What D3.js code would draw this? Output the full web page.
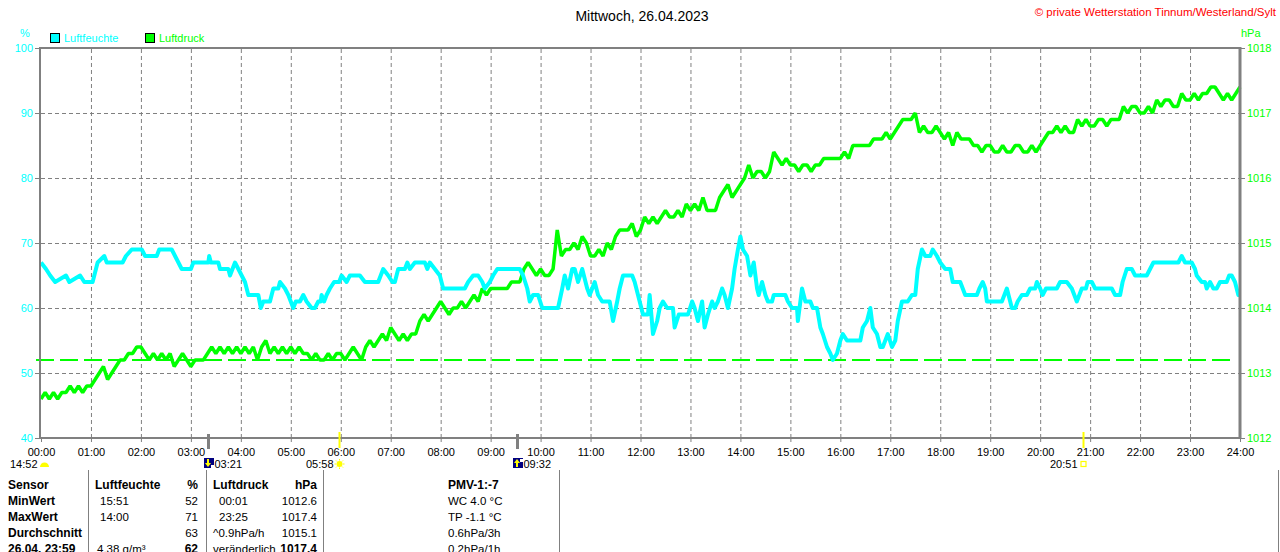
<!DOCTYPE html>
<html>
<head>
<meta charset="utf-8">
<script src="https://cdn.jsdelivr.net/npm/d3@7"></script>
<style>
  body { margin: 0; background: #fff; }
  svg { display: block; font-family: "Liberation Sans", Arial, sans-serif; }
</style>
</head>
<body>
<svg></svg>
<script>
// chart data
var titleText = "Mittwoch, 26.04.2023";
var sourceText = "\u00a9 private Wetterstation Tinnum/Westerland/Sylt";
var hourLabels = ["00:00","01:00","02:00","03:00","04:00","05:00","06:00","07:00","08:00","09:00","10:00","11:00","12:00",
                  "13:00","14:00","15:00","16:00","17:00","18:00","19:00","20:00","21:00","22:00","23:00","24:00"];
var humTicks = [40, 50, 60, 70, 80, 90, 100];
var presTicks = [1012, 1013, 1014, 1015, 1016, 1017, 1018];

// Luftfeuchte (%) -- minute of day / value
var humMin = [0,6,11,17,30,34,47,52,62,66,68,76,79,98,102,109,121,125,139,142,157,161,165,169,180,183,201,202,204,213,215,225,227,233,237,241,245,249,261,264,267,275,279,285,287,293,297,300,303,306,311,315,319,325,329,333,336,337,340,343,347,352,358,361,367,371,383,389,405,411,417,422,425,429,437,440,443,449,461,464,467,473,479,483,509,513,519,525,530,533,539,543,548,575,579,584,587,591,597,602,621,626,629,633,638,641,645,650,656,659,665,669,674,683,687,692,695,699,710,713,717,723,729,731,735,740,743,747,752,759,761,766,771,777,782,785,789,794,797,801,806,809,813,818,821,825,830,833,837,840,843,848,852,856,860,862,866,870,873,878,880,894,897,902,908,909,914,918,924,927,932,936,939,944,948,951,956,960,963,968,984,987,992,996,999,1004,1008,1011,1017,1022,1026,1029,1034,1041,1046,1050,1053,1058,1062,1068,1071,1076,1080,1086,1092,1095,1104,1107,1110,1124,1127,1131,1134,1136,1154,1157,1160,1164,1166,1170,1173,1178,1184,1188,1194,1196,1200,1203,1207,1220,1224,1232,1238,1244,1250,1255,1257,1262,1266,1286,1290,1296,1299,1304,1310,1314,1328,1332,1336,1366,1370,1374,1382,1386,1388,1394,1398,1400,1404,1408,1412,1416,1424,1427,1430,1434,1438,1440];
var humVal = [67,66,65,64,65,64,65,64,64,66,67,68,67,67,68,69,69,68,68,69,69,68,67,66,66,67,67,68,67,67,66,66,65,67,66,65,64,62,62,60,61,61,63,63,64,63,62,61,60,61,61,62,61,60,60,61,61,62,61,62,63,64,64,65,64,65,65,64,64,66,65,64,64,66,66,67,66,67,67,66,67,66,65,63,63,64,65,65,64,63,64,65,66,66,65,63,61,62,62,60,60,63,65,63,66,66,64,66,63,62,64,62,61,61,58,61,63,65,65,64,62,59,59,62,56,58,60,61,60,60,57,59,59,59,61,60,58,61,57,59,61,60,61,63,62,60,63,66,69,71,69,68,65,67,63,62,64,62,61,61,62,62,61,60,60,58,63,61,61,60,60,57,56,54,53,52,53,55,56,55,55,57,58,60,57,56,54,54,56,54,55,58,61,61,62,62,66,69,68,68,69,68,67,66,66,64,64,63,62,62,63,64,63,61,61,62,63,61,60,60,61,62,62,63,63,64,63,62,63,63,64,64,63,61,63,63,64,64,63,63,62,62,64,66,66,65,65,66,67,67,68,67,67,66,65,64,64,63,64,63,63,64,64,65,65,64,62,62];

// Luftdruck (hPa) -- one reading every 5 minutes from 00:00
var presStep = 5;
var presVal = [
  1012.6,1012.7,1012.6,1012.7,1012.6,1012.7,1012.7,1012.8,1012.7,1012.8,1012.7,1012.8,
  1012.8,1012.9,1013.0,1013.1,1012.9,1013.0,1013.1,1013.2,1013.2,1013.3,1013.3,1013.4,
  1013.4,1013.3,1013.2,1013.3,1013.2,1013.3,1013.2,1013.3,1013.1,1013.2,1013.3,1013.2,
  1013.1,1013.2,1013.2,1013.2,1013.3,1013.4,1013.3,1013.4,1013.3,1013.4,1013.3,1013.4,
  1013.3,1013.4,1013.3,1013.4,1013.2,1013.4,1013.5,1013.3,1013.4,1013.3,1013.4,1013.3,
  1013.4,1013.3,1013.4,1013.3,1013.3,1013.2,1013.3,1013.2,1013.2,1013.3,1013.2,1013.3,
  1013.3,1013.2,1013.3,1013.4,1013.3,1013.2,1013.4,1013.5,1013.4,1013.5,1013.6,1013.5,
  1013.7,1013.6,1013.5,1013.6,1013.5,1013.6,1013.6,1013.8,1013.9,1013.8,1013.9,1014.0,
  1014.1,1014.0,1013.9,1014.0,1014.0,1014.1,1014.0,1014.1,1014.2,1014.1,1014.3,1014.2,
  1014.3,1014.3,1014.3,1014.3,1014.3,1014.4,1014.4,1014.4,1014.6,1014.7,1014.6,1014.5,
  1014.6,1014.5,1014.5,1014.6,1015.2,1014.8,1014.9,1014.9,1015.0,1014.9,1015.1,1015.0,
  1014.8,1014.8,1014.9,1014.8,1015.0,1014.9,1015.1,1015.2,1015.2,1015.2,1015.3,1015.1,
  1015.2,1015.4,1015.3,1015.4,1015.3,1015.4,1015.5,1015.4,1015.4,1015.5,1015.4,1015.6,
  1015.5,1015.6,1015.5,1015.7,1015.5,1015.5,1015.5,1015.7,1015.8,1015.9,1015.7,1015.8,
  1015.9,1016.0,1016.2,1016.0,1016.1,1016.1,1016.0,1016.1,1016.4,1016.3,1016.2,1016.3,
  1016.2,1016.2,1016.1,1016.2,1016.2,1016.1,1016.2,1016.2,1016.3,1016.3,1016.3,1016.3,
  1016.3,1016.4,1016.3,1016.5,1016.5,1016.5,1016.5,1016.5,1016.6,1016.6,1016.6,1016.7,
  1016.6,1016.7,1016.8,1016.9,1016.9,1016.9,1017.0,1016.7,1016.8,1016.7,1016.7,1016.8,
  1016.7,1016.6,1016.7,1016.5,1016.7,1016.6,1016.6,1016.6,1016.5,1016.5,1016.4,1016.5,
  1016.5,1016.4,1016.4,1016.5,1016.4,1016.4,1016.5,1016.5,1016.4,1016.4,1016.5,1016.4,
  1016.5,1016.6,1016.7,1016.7,1016.8,1016.7,1016.8,1016.7,1016.7,1016.9,1016.8,1016.9,
  1016.8,1016.8,1016.9,1016.9,1016.8,1016.9,1016.9,1016.9,1017.1,1017.0,1017.1,1017.1,
  1017.0,1017.0,1017.1,1017.0,1017.2,1017.1,1017.2,1017.2,1017.1,1017.1,1017.3,1017.2,
  1017.2,1017.3,1017.2,1017.3,1017.3,1017.4,1017.4,1017.3,1017.2,1017.3,1017.2,1017.3,
  1017.4];

var refPressure = 1013.2;   // green dashed line

// sun / moon events under the axis
var eventTimes = ["03:21", "05:58", "09:32", "20:51"];
var eventKinds = ["moondown", "sunrise", "moonup", "sunset"];
var moonLabel = "14:52";

// table below the chart
var tableCol1 = ["Sensor", "MinWert", "MaxWert", "Durchschnitt", "26.04. 23:59"];
var tableHumTime = ["Luftfeuchte", "15:51", "14:00", "", "4.38 g/m\u00b3"];
var tableHumVal = ["%", "52", "71", "63", "62"];
var tablePresTime = ["Luftdruck", "00:01", "23:25", "^0.9hPa/h", "ver\u00e4nderlich"];
var tablePresVal = ["hPa", "1012.6", "1017.4", "1015.1", "1017.4"];
var tableExtra = ["PMV-1:-7", "WC 4.0 \u00b0C", "TP -1.1 \u00b0C", "0.6hPa/3h", "0.2hPa/1h"];

var W = 1280, H = 552;
var pLeft = 41, pRight = 1240, pTop = 48, pBottom = 438;
var cyan = "#00ffff", green = "#00ff00", grid = "#808080";
var narrow = "Liberation Sans Narrow, Liberation Sans, Arial, sans-serif";

var svg = d3.select("svg").attr("width", W).attr("height", H);

var x = d3.scaleLinear().domain([0, 1440]).range([pLeft, pRight]);
var yHum = d3.scaleLinear().domain([40, 100]).range([pBottom, pTop]);
var yPres = d3.scaleLinear().domain([1012, 1018]).range([pBottom, pTop]);

function toMin(s) { var p = s.split(":"); return +p[0] * 60 + +p[1]; }

// title + source
svg.append("text").attr("x", 642).attr("y", 21).attr("text-anchor", "middle")
  .style("font-size", "14px").text(titleText);
svg.append("text").attr("x", 1276).attr("y", 16).attr("text-anchor", "end")
  .style("font-size", "11.5px").attr("fill", "#ff0000").text(sourceText);

// unit labels
svg.append("text").attr("x", 25).attr("y", 37).attr("text-anchor", "middle")
  .style("font-size", "11px").attr("fill", cyan).text("%");
svg.append("text").attr("x", 1241).attr("y", 37)
  .style("font-size", "11px").attr("fill", green).text("hPa");

// legend
var legend = [["Luftfeuchte", cyan, 50], ["Luftdruck", green, 145]];
legend.forEach(function(l) {
  svg.append("rect").attr("x", l[2] + 0.5).attr("y", 33.5).attr("width", 9).attr("height", 9)
    .attr("fill", l[1]).attr("stroke", "#000").attr("stroke-width", 1);
  svg.append("text").attr("x", l[2] + 14).attr("y", 42).style("font-size", "11px")
    .attr("fill", l[1]).text(l[0]);
});

// grid
var gHours = hourLabels.map(function(d, i) { return i * 60; });
svg.append("g").attr("transform", "translate(0," + pBottom + ")")
  .call(d3.axisBottom(x).tickValues(gHours.slice(1, -1)).tickSize(-(pBottom - pTop)).tickFormat(""))
  .call(function(g) {
    g.select(".domain").remove();
    g.selectAll("line").attr("stroke", grid).attr("stroke-dasharray", "4,3");
  });
svg.append("g").attr("transform", "translate(" + pLeft + ",0)")
  .call(d3.axisLeft(yHum).tickValues(humTicks.slice(1, -1)).tickSize(-(pRight - pLeft)).tickFormat(""))
  .call(function(g) {
    g.select(".domain").remove();
    g.selectAll("line").attr("stroke", grid).attr("stroke-dasharray", "4,3");
  });

// left axis (humidity)
svg.append("g").attr("transform", "translate(40,0)")
  .call(d3.axisLeft(yHum).tickValues(humTicks).tickSize(5).tickPadding(2).tickFormat(d3.format("d")))
  .call(function(g) {
    g.select(".domain").remove();
    g.selectAll("line").attr("stroke", grid);
    g.selectAll("text").attr("fill", cyan).style("font-size", "11px")
      .style("font-family", "Liberation Sans, Arial, sans-serif");
  });
// right axis (pressure)
svg.append("g").attr("transform", "translate(1241,0)")
  .call(d3.axisRight(yPres).tickValues(presTicks).tickSize(4).tickPadding(2).tickFormat(d3.format("d")))
  .call(function(g) {
    g.select(".domain").remove();
    g.selectAll("line").attr("stroke", grid);
    g.selectAll("text").attr("fill", green).style("font-size", "11px")
      .style("font-family", "Liberation Sans, Arial, sans-serif");
  });
// bottom axis (hours)
svg.append("g").attr("transform", "translate(0," + pBottom + ")")
  .call(d3.axisBottom(x).tickValues(gHours).tickSize(4).tickPadding(6)
    .tickFormat(function(d, i) { return hourLabels[i]; }))
  .call(function(g) {
    g.select(".domain").remove();
    g.selectAll("line").attr("stroke", grid);
    g.selectAll("text").attr("fill", "#000").style("font-size", "11px")
      .style("font-family", narrow);
  });

// reference line
svg.append("line").attr("x1", 36).attr("x2", 1232)
  .attr("y1", yPres(refPressure)).attr("y2", yPres(refPressure))
  .attr("stroke", green).attr("stroke-width", 2).attr("stroke-dasharray", "18,6");

// pressure line
var presLine = d3.line()
  .x(function(d, i) { return x(i * presStep); })
  .y(function(d) { return yPres(d); });
svg.append("path").datum(presVal).attr("d", presLine)
  .attr("fill", "none").attr("stroke", green).attr("stroke-width", 3.5).attr("stroke-linejoin", "bevel");

// humidity line
var humLine = d3.line()
  .x(function(d, i) { return x(humMin[i]); })
  .y(function(d) { return yHum(d); });
svg.append("path").datum(humVal).attr("d", humLine)
  .attr("fill", "none").attr("stroke", cyan).attr("stroke-width", 4).attr("stroke-linejoin", "round");

// frame
svg.append("line").attr("x1", 40).attr("x2", 1241).attr("y1", 48).attr("y2", 48).attr("stroke", grid).attr("stroke-width", 2);
svg.append("line").attr("x1", 40).attr("x2", 1241).attr("y1", 438).attr("y2", 438).attr("stroke", grid).attr("stroke-width", 2);
svg.append("line").attr("x1", 40).attr("x2", 40).attr("y1", 47).attr("y2", 439).attr("stroke", grid).attr("stroke-width", 2);
svg.append("line").attr("x1", 1240).attr("x2", 1240).attr("y1", 47).attr("y2", 439).attr("stroke", grid).attr("stroke-width", 3);

// sun and moon events
var navy = "#000080", yellow = "#ffff00";
eventTimes.forEach(function(t, i) {
  var kind = eventKinds[i];
  var ex = Math.round(x(toMin(t))) + 0.5;
  var isSun = kind.indexOf("sun") === 0;
  svg.append("line").attr("x1", ex).attr("x2", ex).attr("y1", isSun ? 432 : 434).attr("y2", isSun ? 448 : 449)
    .attr("stroke", isSun ? yellow : grid).attr("stroke-width", isSun ? 2 : 3);
  if (kind === "moondown" || kind === "moonup") {
    var g = svg.append("g").attr("transform", "translate(" + (ex - 4.5) + ",458)");
    g.append("rect").attr("width", 10).attr("height", 10).attr("fill", navy);
    g.append("path").attr("d", kind === "moondown" ? "M3,1 L3,5 L1,5 L4,9 L7,5 L5,5 L5,1 Z" : "M3,9 L3,5 L1,5 L4,1 L7,5 L5,5 L5,9 Z")
      .attr("fill", yellow);
    g.append("rect").attr("x", 7).attr("y", kind === "moondown" ? 7 : 1).attr("width", 3).attr("height", 3).attr("fill", "#fff");
    svg.append("text").attr("x", ex + 6).attr("y", 468).style("font-size", "11px")
      .style("font-family", narrow).text(t);
  } else {
    if (kind === "sunrise") {
      var s = svg.append("g").attr("transform", "translate(" + ex + ",464)");
      s.append("circle").attr("r", 3).attr("fill", yellow);
      d3.range(8).forEach(function(k) {
        var a = k * Math.PI / 4;
        s.append("line").attr("x1", Math.cos(a) * 3.5).attr("y1", Math.sin(a) * 3.5)
          .attr("x2", Math.cos(a) * 5).attr("y2", Math.sin(a) * 5).attr("stroke", yellow).attr("stroke-width", 1);
      });
    } else {
      svg.append("rect").attr("x", ex - 2.5).attr("y", 461.5).attr("width", 5).attr("height", 5)
        .attr("fill", "none").attr("stroke", yellow).attr("stroke-width", 1.2);
    }
    svg.append("text").attr("x", ex - 6).attr("y", 468).attr("text-anchor", "end").style("font-size", "11px")
      .style("font-family", narrow).text(t);
  }
});
// moon marker at the left edge
svg.append("text").attr("x", 10).attr("y", 468).style("font-size", "11px")
  .style("font-family", narrow).text(moonLabel);
svg.append("path").attr("d", "M40,467 A4.5,4.5 0 0 1 49,467 Z").attr("fill", yellow);

// table
[88, 206, 323, 559, 1278].forEach(function(sx) {
  svg.append("line").attr("x1", sx + 0.5).attr("x2", sx + 0.5).attr("y1", 470).attr("y2", H)
    .attr("stroke", grid).attr("stroke-width", 1);
});
var rowY = [489, 505, 521, 537, 553];
function cell(txt, xx, row, anchor, bold) {
  svg.append("text").attr("x", xx).attr("y", rowY[row]).attr("text-anchor", anchor)
    .style("font-size", bold ? "12px" : "11.5px").style("font-weight", bold ? "bold" : "normal").text(txt);
}
tableCol1.forEach(function(t, i) { cell(t, 8, i, "start", true); });
tableHumTime.forEach(function(t, i) { cell(t, i === 0 ? 95 : (i === 4 ? 97 : 100), i, "start", i === 0); });
tableHumVal.forEach(function(t, i) { cell(t, 198, i, "end", i === 0 || i === 4); });
tablePresTime.forEach(function(t, i) { cell(t, (i === 1 || i === 2) ? 219 : 213, i, "start", i === 0); });
tablePresVal.forEach(function(t, i) { cell(t, 317, i, "end", i === 0 || i === 4); });
tableExtra.forEach(function(t, i) { cell(t, 448, i, "start", i === 0); });
</script>
</body>
</html>
